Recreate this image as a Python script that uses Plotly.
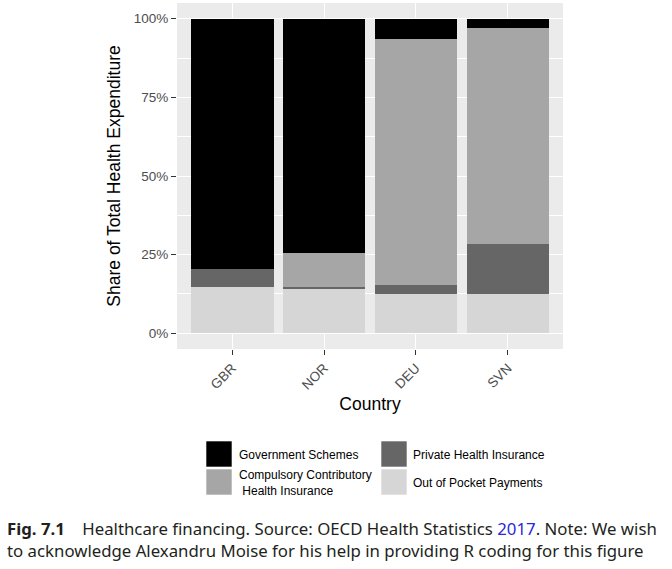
import plotly.graph_objects as go

# ---- data ----
countries = ["GBR", "NOR", "DEU", "SVN"]
out_of_pocket = [14.6, 14.3, 12.5, 12.5]
private_ins = [5.8, 0.3, 2.9, 15.8]
compulsory = [0.0, 11.0, 78.0, 68.9]
government = [79.6, 74.4, 6.6, 2.8]

series_names = ["Out of Pocket Payments", "Private Health Insurance",
                "Compulsory Contributory<br> Health Insurance", "Government Schemes"]
y_ticks = [0, 25, 50, 75, 100]
y_tick_labels = ["0%", "25%", "50%", "75%", "100%"]

# ---- style ----
W, H = 672, 569
ML, MR, MT, MB = 177, 109, 3, 220
colors = ["#d6d6d6", "#666666", "#a6a6a6", "#000000"]
base_font = "Liberation Sans, Arial, sans-serif"

def px(x):
    return (x - ML) / (W - ML - MR)

def py(y):
    return (H - MB - y) / (H - MT - MB)

fig = go.Figure()
for name, vals, col in zip(series_names, [out_of_pocket, private_ins, compulsory, government], colors):
    fig.add_trace(go.Bar(x=countries, y=vals, name=name, marker=dict(color=col, line=dict(width=0)),
                         showlegend=False))

fig.update_layout(
    width=W, height=H, autosize=False,
    margin=dict(l=ML, r=MR, t=MT, b=MB),
    barmode="stack", bargap=0.1,
    paper_bgcolor="white", plot_bgcolor="#ebebeb",
    font=dict(family=base_font, color="#000000"),
)
fig.update_xaxes(
    range=[-0.6, 3.6], showgrid=True, gridcolor="white", gridwidth=1.2,
    ticks="outside", ticklen=5, tickcolor="#333333", tickwidth=1,
    tickangle=-45, tickfont=dict(size=13.5, color="#4d4d4d"),
    title=dict(text="Country", font=dict(size=17.5, color="#000000"), standoff=6),
    zeroline=False, showline=False,
)
fig.update_yaxes(
    range=[-5, 105], tickvals=y_ticks, ticktext=y_tick_labels,
    showgrid=True, gridcolor="white", gridwidth=1.2,
    minor=dict(tickvals=[12.5, 37.5, 62.5, 87.5], showgrid=True, gridcolor="white", gridwidth=0.6, ticklen=0),
    ticks="outside", ticklen=5, tickcolor="#333333", tickwidth=1,
    tickfont=dict(size=13.5, color="#4d4d4d"),
    title=dict(text="Share of Total Health Expenditure", font=dict(size=17.5, color="#000000"), standoff=8),
    zeroline=False, showline=False,
)

# ---- manual legend (ggplot style keys) ----
legend_items = [
    ("Government Schemes", "#000000", 206, 441, 237, 455),
    ("Compulsory Contributory<br> Health Insurance", "#a6a6a6", 206, 469, 237, 483),
    ("Private Health Insurance", "#666666", 381, 441, 411, 455),
    ("Out of Pocket Payments", "#d6d6d6", 381, 469, 411, 483),
]
shapes = []
annotations = []
for text, col, kx, ky, tx, ty in legend_items:
    shapes.append(dict(type="rect", xref="paper", yref="paper",
                       x0=px(kx), x1=px(kx + 26), y0=py(ky + 26), y1=py(ky),
                       fillcolor=col, line=dict(width=0.6, color="white")))
    annotations.append(dict(xref="paper", yref="paper", x=px(tx), y=py(ty), text=text,
                            showarrow=False, xanchor="left", yanchor="middle", align="left",
                            font=dict(size=12, family=base_font, color="#000000")))

cap_font = dict(family="Noto Sans, sans-serif", size=16.8, color="#231f20")
annotations.append(dict(xref="paper", yref="paper", x=px(5), y=py(539),
                        text="<b>Fig. 7.1</b>&nbsp;&nbsp;&nbsp; Healthcare financing. Source: OECD Health Statistics "
                             "<span style='color:#2a2ad6'>2017</span>. Note: We wish<br>"
                             "to acknowledge Alexandru Moise for his help in providing R coding for this figure",
                        showarrow=False, xanchor="left", yanchor="middle", align="left", font=cap_font))

fig.update_layout(shapes=shapes, annotations=annotations)
fig.write_html("out.html", config={"displayModeBar": False},
               post_script="document.body.style.margin='0';")
